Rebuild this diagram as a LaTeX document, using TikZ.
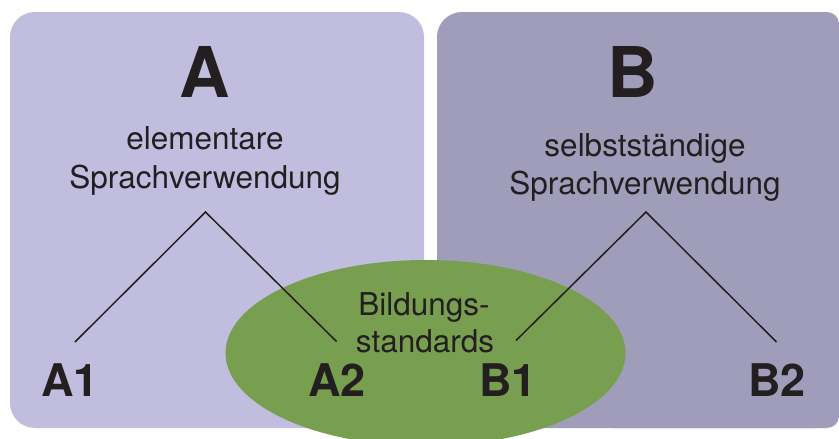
\documentclass[tikz,border=0pt]{standalone}
\usepackage{fontspec}
\setmainfont{TeX Gyre Heros}
\definecolor{panelA}{HTML}{C0BDDE}
\definecolor{panelB}{HTML}{A09DBA}
\definecolor{bsgreen}{HTML}{789E4F}
\definecolor{ink}{HTML}{231F20}
\begin{document}
\begin{tikzpicture}[x=1pt,y=-1pt,
  lbl/.style={anchor=base,inner sep=0pt,text=ink},
  bigletter/.style={lbl,font=\fontsize{70}{70}\selectfont\bfseries},
  level/.style={lbl,font=\fontsize{45}{45}\selectfont\bfseries},
  caption/.style={lbl,font=\fontsize{31.5}{31.5}\selectfont},
  branch/.style={draw=ink,line width=1.5pt}]
\useasboundingbox (0,0) rectangle (839,439);
\clip (0,0) rectangle (839,439);

% two level panels
\fill[panelA,rounded corners=25pt] (10,12) rectangle (424,428);
\fill[panelB,rounded corners=25pt] (437,12) rectangle (839,428);
\fill[panelB,rounded corners=12pt] (600,12) rectangle (839,428);

% overlap area of the standards
\fill[bsgreen] (425.5,353) ellipse [x radius=200, y radius=93];

% headings
\node[bigletter] (A) at (205,97) {A};
\node[bigletter] (B) at (633,97) {B};
\node[caption] (a1) at (205,149) {elementare};
\node[caption] (a2) at (205,188) {Sprachverwendung};
\node[caption] (b1) at (645,156) {selbstständige};
\node[caption] (b2) at (645,194) {Sprachverwendung};
\node[caption] (bs1) at (424,315) {Bildungs-};
\node[caption] (bs2) at (425,352) {standards};

% levels
\node[level] (A1) at (70,396) {A1};
\node[level] (A2) at (337,396) {A2};
\node[level] (B1) at (508,396) {B1};
\node[level] (B2) at (777,396) {B2};

% tree branches
\coordinate (topA) at (205.5,212);
\coordinate (endA1) at (75,342);
\coordinate (endA2) at (336.5,341.5);
\coordinate (topB) at (646,212);
\coordinate (endB1) at (516,340.5);
\coordinate (endB2) at (776.5,342);
\draw[branch,line join=miter] (endA1) -- (topA) -- (endA2);
\draw[branch,line join=miter] (endB1) -- (topB) -- (endB2);
\end{tikzpicture}
\end{document}
